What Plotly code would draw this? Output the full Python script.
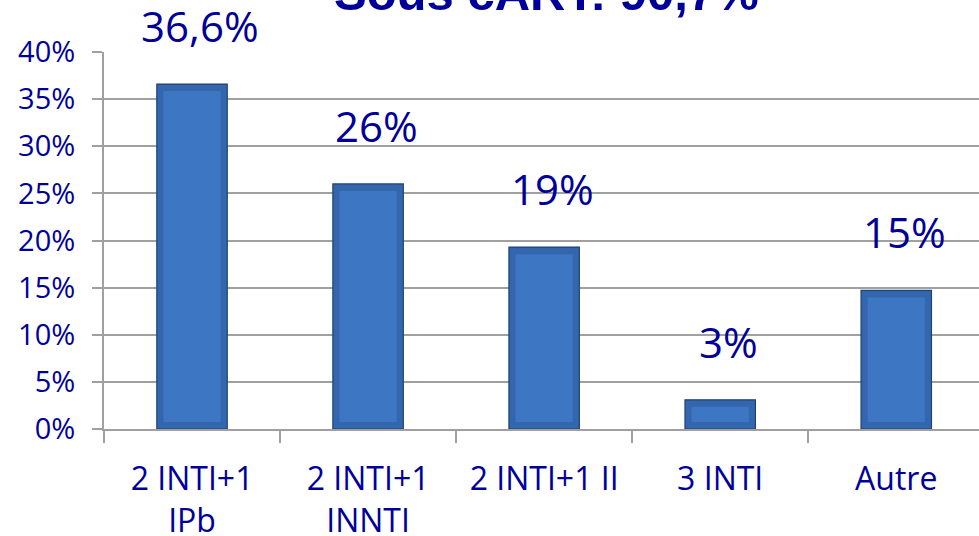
import plotly.graph_objects as go

categories = ["2 INTI+1<br>IPb", "2 INTI+1<br>INNTI", "2 INTI+1 II", "3 INTI", "Autre"]
values = [36.6, 26.0, 19.3, 3.1, 14.7]
labels = ["36,6%", "26%", "19%", "3%", "15%"]
y_ticks = [0, 5, 10, 15, 20, 25, 30, 35, 40]
y_ticklabels = ["0%", "5%", "10%", "15%", "20%", "25%", "30%", "35%", "40%"]
title_text = "Sous cART: 90,7%"

NAVY = "#000099"
GRID = "#a0a0a0"
FONT = "Open Sans"

bevel = 0.75
inner_base = [bevel for v in values]
inner_height = [v - 2 * bevel for v in values]

fig = go.Figure()
fig.add_trace(go.Bar(
    x=categories, y=values, width=0.4,
    marker=dict(color="#3466ad", line=dict(color="#1f4276", width=1.2)),
    hoverinfo="skip", showlegend=False,
))
fig.add_trace(go.Bar(
    x=categories, y=inner_height, base=inner_base, width=0.325,
    marker=dict(color="#3d76c2", line=dict(width=0)),
    hoverinfo="skip", showlegend=False,
))

for c, v, t in zip(categories, values, labels):
    fig.add_annotation(x=c, y=v, text=t, showarrow=False, xref="x", yref="y",
                       yanchor="bottom", yshift=28, xshift=8,
                       font=dict(family=FONT, size=42, color=NAVY))

fig.add_annotation(text="<b>" + title_text + "</b>", xref="paper", yref="paper",
                   x=0.506, y=1, xanchor="center", yanchor="bottom", yshift=30,
                   showarrow=False,
                   font=dict(family="Liberation Sans", size=49, color=NAVY))

fig.update_layout(
    width=979, height=536,
    margin=dict(l=104, r=0, t=52, b=107, autoexpand=False),
    paper_bgcolor="white", plot_bgcolor="white",
    barmode="overlay",
    xaxis=dict(
        type="category", range=[-0.5, 4.47],
        tickson="boundaries", ticks="outside", ticklen=12, tickwidth=2, tickcolor=GRID,
        ticklabelstandoff=21,
        showline=True, linecolor=GRID, linewidth=2,
        showgrid=False, automargin=False,
        tickfont=dict(family=FONT, size=32, color=NAVY),
    ),
    yaxis=dict(
        range=[0, 40], tickvals=y_ticks, ticktext=y_ticklabels,
        ticks="outside", ticklen=10, tickwidth=2, tickcolor=GRID,
        ticklabelstandoff=11,
        showline=True, linecolor=GRID, linewidth=2,
        showgrid=True, gridcolor=GRID, gridwidth=2,
        zeroline=False, automargin=False,
        tickfont=dict(family=FONT, size=29, color=NAVY),
    ),
)

fig.write_html("out.html", config={"displayModeBar": False},
               post_script="document.body.style.margin='0';")
